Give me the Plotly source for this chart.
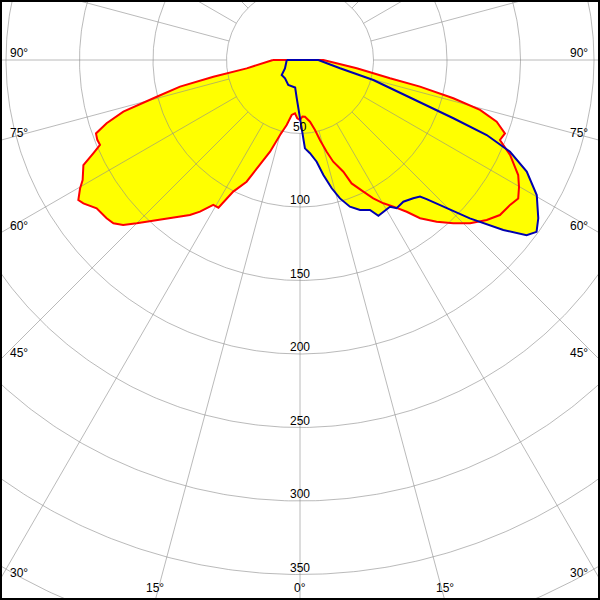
import numpy as np
import plotly.graph_objects as go

# ---------------- data (cd/klm vs gamma angle in degrees) ----------------
# Plane C0-C180 (red): left half = C180, right half = C0
red_left_gamma = [0, 2.7, 5.4, 8.6, 11.6, 14.9, 18.1, 20.9, 23.7, 26.9, 28.9, 30.9, 33.4, 35.4,
                  39.4, 41.8, 45.0, 47.0, 48.8, 50.7, 53.9, 56.5, 57.7, 59.7, 61.1, 64.1, 65.7,
                  67.0, 68.5, 70.2, 71.9, 73.7, 75.6, 77.5, 79.1, 81.1, 90]
red_left_cd = [40.8, 39.7, 36.4, 37.8, 45.1, 52.8, 65.6, 76.4, 90.4, 100.4, 114.8, 114.9, 123.6, 129.3,
               139.3, 146.1, 157.1, 164.5, 168.7, 170.0, 171.2, 176.7, 178.4, 173.3, 168.9, 163.8, 154.3,
               147.8, 148.2, 147.5, 138.4, 125.2, 100.6, 83.6, 60.0, 36.7, 18.4]
red_right_gamma = [0, 2.5, 5.0, 9.2, 12.1, 14.0, 16.2, 18.1, 21.2, 22.7, 24.1, 25.7, 27.9, 30.2,
                   32.5, 35.1, 37.2, 40.2, 43.2, 46.2, 49.4, 52.2, 55.4, 57.6, 59.9, 62.2, 65.7,
                   68.2, 70.3, 72.6, 74.5, 76.0, 77.5, 78.5, 81.7, 90]
red_right_cd = [40.8, 38.5, 38.7, 42.5, 48.7, 56.1, 65.0, 72.8, 81.5, 91.0, 94.4, 99.4, 106.5, 112.8,
                118.3, 126.2, 135.1, 144.0, 152.4, 160.4, 167.3, 172.1, 173.6, 175.8, 172.2, 167.8, 156.8,
                146.5, 148.1, 140.2, 127.1, 107.5, 83.6, 62.5, 39.0, 15.9]

# Plane C90-C270 (blue): left half = C270, right half = C90
blue_left_gamma = [0, 2.0, 4.9, 10.0, 25.1, 39.3, 50.7, 61.0, 90]
blue_left_cd = [40.8, 32.9, 26.1, 19.0, 18.8, 16.1, 16.1, 11.7, 9.0]
blue_right_gamma = [0, 1.4, 3.2, 6.1, 9.3, 11.5, 13.9, 16.1, 18.8, 21.8, 25.0, 26.7, 28.8, 31.5,
                    33.1, 36.1, 39.3, 41.3, 42.3, 44.7, 47.0, 50.1, 52.3, 54.0, 56.4, 60.3, 63.8,
                    66.4, 68.1, 69.2, 70.7, 74.7, 78.3, 85.0, 90]
blue_right_cd = [40.8, 48.8, 60.2, 63.8, 70.1, 79.8, 89.9, 98.0, 105.4, 109.9, 112.6, 118.7, 117.7, 117.1,
                 120.4, 119.3, 121.6, 123.7, 128.0, 141.9, 158.0, 180.3, 194.8, 198.9, 194.6, 185.4, 171.9,
                 155.9, 136.9, 111.6, 86.5, 51.7, 27.8, 15.0, 12.5]

radial_ticks = [50, 100, 150, 200, 250, 300, 350]
grid_circles = [50, 100, 150, 200, 250, 300, 350, 400, 450]
angle_ticks = [0, 15, 30, 45, 60, 75, 90]
spoke_step = 15

# ---------------- layout geometry ----------------
W = H = 600
S = 1.47              # pixels per cd/klm
CX, CY = 300, 60      # pole position in pixels
x_range = [-CX / S, (W - CX) / S]
y_range = [-(H - CY) / S, CY / S]


def outline(gl, vl, gr, vr):
    gl = np.radians(np.array(gl[::-1], float)); vl = np.array(vl[::-1], float)
    gr = np.radians(np.array(gr, float)); vr = np.array(vr, float)
    x = np.concatenate([-vl * np.sin(gl), vr * np.sin(gr)])
    y = np.concatenate([-vl * np.cos(gl), -vr * np.cos(gr)])
    return np.append(x, x[0]), np.append(y, y[0])


rx, ry = outline(red_left_gamma, red_left_cd, red_right_gamma, red_right_cd)
bx, by = outline(blue_left_gamma, blue_left_cd, blue_right_gamma, blue_right_cd)

fig = go.Figure()
YELLOW = "#ffff00"
fig.add_trace(go.Scatter(x=rx, y=ry, fill="toself", fillcolor=YELLOW, mode="none", hoverinfo="skip"))
fig.add_trace(go.Scatter(x=bx, y=by, fill="toself", fillcolor=YELLOW, mode="none", hoverinfo="skip"))

# grid circles
t = np.linspace(0, 2 * np.pi, 721)
gx, gy = [], []
for r in grid_circles:
    gx += list(r * np.cos(t)) + [None]
    gy += list(r * np.sin(t)) + [None]
# spokes
for a in range(0, 360, spoke_step):
    ar = np.radians(a)
    gx += [grid_circles[0] * np.sin(ar), 700 * np.sin(ar), None]
    gy += [-grid_circles[0] * np.cos(ar), -700 * np.cos(ar), None]
fig.add_trace(go.Scatter(x=gx, y=gy, mode="lines", line=dict(color="rgba(140,140,140,0.6)", width=1),
                         hoverinfo="skip"))

fig.add_trace(go.Scatter(x=rx, y=ry, mode="lines", line=dict(color="#ff0000", width=2), hoverinfo="skip"))
fig.add_trace(go.Scatter(x=bx, y=by, mode="lines", line=dict(color="#0000b0", width=2), hoverinfo="skip"))

FONT = dict(family="Liberation Sans, Arial, sans-serif", size=12, color="black")
ann = []
for r in radial_ticks:
    ann.append(dict(x=0, y=-r, text=str(r), showarrow=False, xanchor="center", yanchor="middle",
                    yshift=7, font=FONT))

for a in angle_ticks:
    ar = np.radians(a)
    sides = [1] if a == 0 else [-1, 1]
    for s in sides:
        dx, dy = s * np.sin(ar), -np.cos(ar)
        t_side = (x_range[1] if s > 0 else x_range[0]) / dx if abs(dx) > 1e-9 else np.inf
        t_bot = y_range[0] / dy if abs(dy) > 1e-9 else np.inf
        if t_side < t_bot:
            ann.append(dict(x=x_range[1] if s > 0 else x_range[0], y=t_side * dy, text=f"{a}°",
                            showarrow=False, xanchor="right" if s > 0 else "left", yanchor="middle",
                            xshift=-10 if s > 0 else 8, yshift=7, font=FONT))
        else:
            ann.append(dict(x=t_bot * dx, y=y_range[0], text=f"{a}°", showarrow=False,
                            xanchor="center", yanchor="middle", yshift=12, font=FONT))

fig.update_layout(
    width=W, height=H, margin=dict(l=0, r=0, t=0, b=0),
    paper_bgcolor="white", plot_bgcolor="white", showlegend=False,
    xaxis=dict(range=x_range, visible=False, fixedrange=True),
    yaxis=dict(range=y_range, visible=False, fixedrange=True),
    annotations=ann,
    shapes=[dict(type="rect", xref="paper", yref="paper", x0=0, y0=0, x1=1, y1=1,
                 line=dict(color="black", width=4))],
)
fig.write_html("out.html", config={"displayModeBar": False},
               post_script="document.body.style.margin='0';document.body.style.overflow='hidden';")
